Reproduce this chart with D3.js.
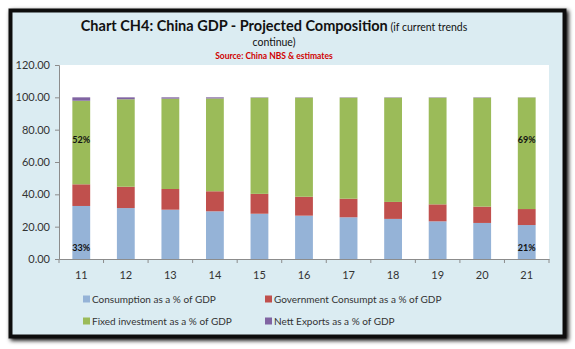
<!DOCTYPE html>
<html>
<head>
<meta charset="utf-8">
<script src="https://cdn.jsdelivr.net/npm/d3@7"></script>
<style>
  body { margin: 0; background: #ffffff; }
  text { font-family: Lato, "Open Sans", sans-serif; }
</style>
</head>
<body>
<div id="chart-area"></div>
<script>
// China GDP projected composition, stacked % bars

const years = ["11", "12", "13", "14", "15", "16", "17", "18", "19", "20", "21"];
const consumption = [32.8, 31.5, 30.5, 29.5, 28.0, 26.8, 25.8, 24.8, 23.3, 22.3, 21.0];
const government  = [13.4, 13.2, 12.8, 12.4, 12.3, 11.7, 11.5, 10.5, 10.5, 10.1,  9.9];
const fixedInv    = [51.7, 54.1, 55.9, 57.4, 59.5, 61.3, 62.5, 64.5, 66.0, 67.4, 69.0];
const nettExports = [ 2.1,  1.2,  0.8,  0.7,  0.2,  0.2,  0.2,  0.2,  0.2,  0.2,  0.1];
const yTicks = [0, 20, 40, 60, 80, 100, 120];

const seriesNames = [
    "Consumption as a % of GDP",
    "Government Consumpt as a % of GDP",
    "Fixed investment as a % of GDP",
    "Nett Exports as a % of GDP"
];
const seriesColors = ["#95b3d7", "#c0504d", "#9bbb59", "#8064a2"];

const svgWidth = 575;
const svgHeight = 349;
var margin = {left: 59, right: 26, top: 65, bottom: 90};
var chartWidth = svgWidth - margin.left - margin.right,
    chartHeight = svgHeight - margin.top - margin.bottom;

var svg = d3.select("#chart-area")
    .append("svg")
        .attr("width", svgWidth)
        .attr("height", svgHeight);

// frame with soft shadow
var defs = svg.append("defs");
var shadow = defs.append("filter")
    .attr("id", "shadow")
    .attr("x", "-5%").attr("y", "-5%")
    .attr("width", "110%").attr("height", "110%");
shadow.append("feGaussianBlur")
    .attr("in", "SourceAlpha")
    .attr("stdDeviation", 2)
    .attr("result", "blur");
shadow.append("feOffset")
    .attr("in", "blur")
    .attr("dx", 2).attr("dy", 2)
    .attr("result", "off");
var merge = shadow.append("feMerge");
merge.append("feMergeNode").attr("in", "off");
merge.append("feMergeNode").attr("in", "SourceGraphic");

svg.append("rect")
    .attr("x", 10.5)
    .attr("y", 10.5)
    .attr("width", 554)
    .attr("height", 326)
    .attr("fill", "#dbecf2")
    .attr("stroke", "#111")
    .attr("stroke-width", 4)
    .attr("filter", "url(#shadow)");

// title
var title = svg.append("text")
    .attr("x", 274)
    .attr("y", 31)
    .attr("text-anchor", "middle")
    .attr("fill", "#111");
title.append("tspan")
    .attr("font-size", "14.5px")
    .attr("font-weight", "bold")
    .text("Chart CH4: China GDP - Projected Composition");
title.append("tspan")
    .attr("font-size", "10.5px")
    .text(" (if current trends");

svg.append("text")
    .attr("x", 274)
    .attr("y", 46)
    .attr("text-anchor", "middle")
    .attr("font-size", "10.5px")
    .attr("fill", "#111")
    .text("continue)");

svg.append("text")
    .attr("x", 274)
    .attr("y", 59)
    .attr("text-anchor", "middle")
    .attr("font-size", "8.5px")
    .attr("font-weight", "bold")
    .attr("fill", "#d00000")
    .text("Source: China NBS & estimates");

var g = svg.append("g")
    .attr("transform", "translate(" + margin.left + "," + margin.top + ")");

// plot area
g.append("rect")
    .attr("width", chartWidth)
    .attr("height", chartHeight)
    .attr("fill", "#ffffff");

var x = d3.scaleBand()
    .domain(years)
    .range([0, chartWidth])
    .paddingInner(0.6)
    .paddingOuter(0.3);

var y = d3.scaleLinear()
    .domain([0, 120])
    .range([chartHeight, 0]);

// stack the four series
var table = years.map(function(d, i){
    return {year: d, s0: consumption[i], s1: government[i], s2: fixedInv[i], s3: nettExports[i]};
});
var stack = d3.stack().keys(["s0", "s1", "s2", "s3"]);
var layers = stack(table);

g.selectAll(".layer")
    .data(layers)
    .enter().append("g")
        .attr("class", "layer")
        .attr("fill", function(d, i){ return seriesColors[i]; })
    .selectAll("rect")
    .data(function(d){ return d; })
    .enter().append("rect")
        .attr("x", function(d){ return x(d.data.year); })
        .attr("y", function(d){ return y(d[1]); })
        .attr("height", function(d){ return y(d[0]) - y(d[1]); })
        .attr("width", x.bandwidth());

// y axis
var yAxis = g.append("g")
    .attr("class", "y axis")
    .call(d3.axisLeft(y).tickValues(yTicks).tickSize(4).tickPadding(5)
        .tickFormat(d3.format(".2f")));

// x axis with ticks between categories
var xAxis = g.append("g")
    .attr("class", "x axis")
    .attr("transform", "translate(0," + chartHeight + ")")
    .call(d3.axisBottom(x).tickSize(0).tickPadding(12));
xAxis.selectAll(".sep")
    .data(d3.range(years.length + 1))
    .enter().append("line")
        .attr("class", "sep")
        .attr("x1", function(d){ return d * chartWidth / years.length; })
        .attr("x2", function(d){ return d * chartWidth / years.length; })
        .attr("y1", 0)
        .attr("y2", 4)
        .attr("stroke", "#8c8c8c");

svg.selectAll(".axis path").attr("stroke", "#8c8c8c");
svg.selectAll(".axis .tick line").attr("stroke", "#8c8c8c");
svg.selectAll(".axis text")
    .attr("font-size", "11px")
    .attr("fill", "#333")
    .attr("font-family", "Lato, sans-serif");

// value labels on first and last bars
var labelData = [
    {year: years[0], v: fixedInv[0], at: 73.5},
    {year: years[0], v: consumption[0], at: 7},
    {year: years[10], v: fixedInv[10], at: 73.5},
    {year: years[10], v: consumption[10], at: 7}
];
g.selectAll(".vlabel")
    .data(labelData)
    .enter().append("text")
        .attr("class", "vlabel")
        .attr("x", function(d){ return x(d.year) + x.bandwidth() / 2; })
        .attr("y", function(d){ return y(d.at); })
        .attr("dy", "0.35em")
        .attr("text-anchor", "middle")
        .attr("font-size", "9px")
        .attr("font-weight", "bold")
        .attr("fill", "#111")
        .text(function(d){ return Math.round(d.v) + "%"; });

// legend
var legendPos = [
    {x: 83, y: 299}, {x: 265, y: 299},
    {x: 83, y: 321}, {x: 265, y: 321}
];
var legend = svg.selectAll(".legend")
    .data(seriesNames)
    .enter().append("g")
        .attr("class", "legend")
        .attr("transform", function(d, i){
            return "translate(" + legendPos[i].x + "," + legendPos[i].y + ")";
        });
legend.append("rect")
    .attr("x", 0)
    .attr("y", -3.5)
    .attr("width", 7)
    .attr("height", 7)
    .attr("fill", function(d, i){ return seriesColors[i]; });
legend.append("text")
    .attr("x", 9)
    .attr("dy", "0.35em")
    .attr("font-size", "10px")
    .attr("fill", "#333")
    .text(function(d){ return d; });
</script>
</body>
</html>
